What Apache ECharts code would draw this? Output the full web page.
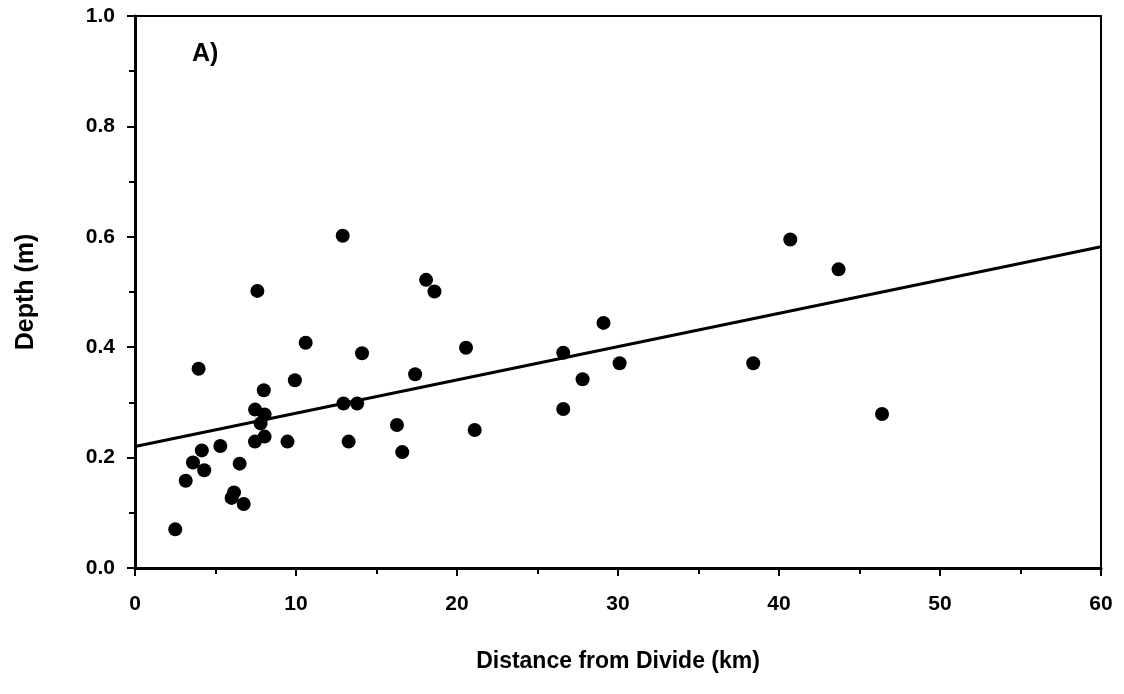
<!DOCTYPE html>
<html>
<head>
<meta charset="utf-8">
<script src="https://cdn.jsdelivr.net/npm/echarts@6/dist/echarts.min.js"></script>
<style>
html,body{margin:0;padding:0;background:#fff;}
#chart{width:1124px;height:694px;}
</style>
</head>
<body>
<div id="chart"></div>
<script>
// Data
const distanceKm = [2.5, 3.15, 3.6, 4.15, 4.3, 3.95, 5.3, 6.15, 6.0, 6.75, 6.5, 7.6, 7.46, 8.05, 7.8, 8.05, 7.45, 8.0, 9.47, 9.93, 10.6, 12.9, 12.95, 13.8, 13.27, 14.1, 16.27, 16.6, 17.4, 18.08, 18.6, 20.56, 21.1, 26.6, 26.6, 27.8, 29.1, 30.1, 38.4, 40.7, 43.7, 46.4];
const depthM = [0.070, 0.158, 0.191, 0.213, 0.177, 0.361, 0.221, 0.137, 0.127, 0.116, 0.189, 0.502, 0.287, 0.278, 0.262, 0.238, 0.229, 0.322, 0.229, 0.340, 0.408, 0.602, 0.298, 0.298, 0.229, 0.389, 0.259, 0.210, 0.351, 0.522, 0.501, 0.399, 0.250, 0.390, 0.288, 0.342, 0.444, 0.371, 0.371, 0.595, 0.541, 0.279];
const fitX = [0, 60];
const fitY = [0.22, 0.582];
const xTicks = [0, 10, 20, 30, 40, 50, 60];
const yTicks = [0.0, 0.2, 0.4, 0.6, 0.8, 1.0];
const panelLabel = 'A)';
const xTitle = 'Distance from Divide (km)';
const yTitle = 'Depth (m)';

const points = distanceKm.map((x, i) => [x, depthM[i]]);
const fitLine = fitX.map((x, i) => [x, fitY[i]]);

const font = 'Arial, "Liberation Sans", Helvetica, sans-serif';
const chart = echarts.init(document.getElementById('chart'));
chart.setOption({
  animation: false,
  backgroundColor: '#fff',
  grid: { left: 135, right: 23, top: 16, bottom: 126, show: true, borderColor: '#000', borderWidth: 2, backgroundColor: 'transparent' },
  xAxis: {
    type: 'value', min: xTicks[0], max: xTicks[xTicks.length - 1], interval: 10,
    name: xTitle, nameLocation: 'middle', nameGap: 82,
    nameTextStyle: { fontFamily: font, fontWeight: 'bold', fontSize: 23, color: '#000' },
    axisLine: { show: true, lineStyle: { color: '#000', width: 3 } },
    axisTick: { show: true, inside: false, length: 8, lineStyle: { color: '#000', width: 2 } },
    minorTick: { show: true, splitNumber: 2, length: 6, lineStyle: { color: '#000', width: 2 } },
    splitLine: { show: false },
    axisLabel: { fontFamily: font, fontWeight: 'bold', fontSize: 21, color: '#000', margin: 26 }
  },
  yAxis: {
    type: 'value', min: yTicks[0], max: yTicks[yTicks.length - 1], interval: 0.2,
    name: yTitle, nameLocation: 'middle', nameGap: 96, nameRotate: 90,
    nameTextStyle: { fontFamily: font, fontWeight: 'bold', fontSize: 25, color: '#000' },
    axisLine: { show: true, lineStyle: { color: '#000', width: 3 } },
    axisTick: { show: true, inside: false, length: 8, lineStyle: { color: '#000', width: 2 } },
    minorTick: { show: true, splitNumber: 2, length: 6, lineStyle: { color: '#000', width: 2 } },
    splitLine: { show: false },
    axisLabel: { fontFamily: font, fontWeight: 'bold', fontSize: 21, color: '#000', margin: 20, formatter: v => v.toFixed(1) }
  },
  graphic: [{
    type: 'text', left: 192, top: 42,
    style: { text: panelLabel, fontFamily: font, fontWeight: 'bold', fontSize: 25, fill: '#000' }
  }],
  series: [
    {
      type: 'line', data: fitLine, symbol: 'none', silent: true,
      lineStyle: { color: '#000', width: 3 }, z: 2
    },
    {
      type: 'scatter', data: points, symbol: 'circle', symbolSize: 14,
      itemStyle: { color: '#000', opacity: 1 }, z: 3
    }
  ]
});
</script>
</body>
</html>
